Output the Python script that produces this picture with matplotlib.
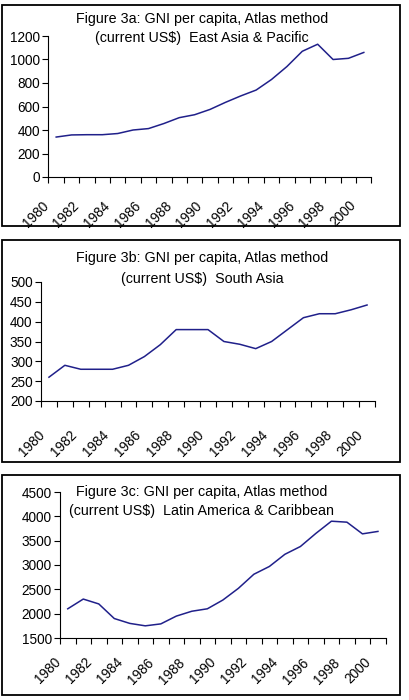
import numpy as np
import matplotlib
matplotlib.use("Agg")
import matplotlib.pyplot as plt
from matplotlib.patches import Rectangle
from matplotlib.transforms import ScaledTranslation

plt.rcParams['font.family'] = ['Liberation Sans', 'DejaVu Sans']

# data (1980-2000)
years = list(range(1980, 2001))
east_asia = [340, 358, 360, 360, 370, 400, 412, 455, 505, 530, 575, 635, 690, 740, 830, 940,
             1070, 1130, 1000, 1010, 1060]
south_asia = [260, 290, 280, 280, 280, 290, 312, 342, 380, 380, 380, 350, 343, 332, 350, 380,
              410, 420, 420, 430, 442]
latin_am = [2100, 2300, 2200, 1900, 1800, 1750, 1790, 1950, 2050, 2100, 2280, 2520, 2810, 2970,
            3220, 3380, 3650, 3900, 3880, 3640, 3690]

titles = ["Figure 3a: GNI per capita, Atlas method\n(current US\\$)  East Asia & Pacific",
          "Figure 3b: GNI per capita, Atlas method\n(current US\\$)  South Asia",
          "Figure 3c: GNI per capita, Atlas method\n(current US\\$)  Latin America & Caribbean"]

W, H = 410, 700
fig = plt.figure(figsize=(W / 100, H / 100), dpi=100)

def px_axes(left, right, top, bottom):
    return fig.add_axes([left / W, 1 - bottom / H, (right - left) / W, (bottom - top) / H])

# panel settings: axes box in pixels, y range, box frame, title y positions, label offset
panels = [
    dict(data=east_asia, ax=(48.5, 371.5, 36, 177), ylim=(0, 1200), step=200,
         frame=(2, 5, 400, 226), ty=(19, 38), off=(-10, 19)),
    dict(data=south_asia, ax=(41, 375, 282, 401), ylim=(200, 500), step=50,
         frame=(2, 240, 400, 462), ty=(258, 279), off=(-6, 23)),
    dict(data=latin_am, ax=(60, 385.7, 492, 638), ylim=(1500, 4500), step=500,
         frame=(2, 475, 400, 695), ty=(492, 511), off=(-9, 16)),
]

navy = '#20208a'
fs = 9.8
for p, title in zip(panels, titles):
    fx0, fy0, fx1, fy1 = p['frame']
    fig.patches.append(Rectangle((fx0 / W, 1 - fy1 / H), (fx1 - fx0) / W, (fy1 - fy0) / H,
                                 transform=fig.transFigure, fill=False, ec='black', lw=1.3))
    ax = px_axes(*p['ax'])
    x = np.arange(len(years))
    ax.plot(x, p['data'], color=navy, lw=1.1)
    ax.set_xlim(-0.5, len(years) - 0.5)
    ax.set_ylim(*p['ylim'])
    ax.set_yticks(np.arange(p['ylim'][0], p['ylim'][1] + 1, p['step']))
    ax.tick_params(axis='y', direction='out', length=4, width=0.8, labelsize=fs, pad=2)
    # tick marks between categories, labels every second year
    ax.set_xticks(np.arange(-0.5, len(years), 1))
    ax.set_xticklabels([])
    ax.tick_params(axis='x', which='major', direction='out', length=4, width=0.8)
    ax.set_xticks(x[::2], minor=True)
    ax.set_xticklabels([str(y) for y in years[::2]], minor=True, rotation=45,
                       ha='right', va='center', rotation_mode='anchor', fontsize=fs)
    ax.tick_params(axis='x', which='minor', length=0, pad=p['off'][1])
    shift = ScaledTranslation(p['off'][0] / 100, 0, fig.dpi_scale_trans)
    for lab in ax.get_xticklabels(minor=True):
        lab.set_transform(lab.get_transform() + shift)
    for s in ['top', 'right']:
        ax.spines[s].set_visible(False)
    for s in ['left', 'bottom']:
        ax.spines[s].set_linewidth(0.8)
    ax.patch.set_alpha(0)
    l1, l2 = title.split("\n")
    fig.text(202 / W, 1 - p['ty'][0] / H, l1, ha='center', va='center', fontsize=10.3)
    fig.text(202 / W, 1 - p['ty'][1] / H, l2, ha='center', va='center', fontsize=10.3)

fig.savefig("out.png", dpi=100)
